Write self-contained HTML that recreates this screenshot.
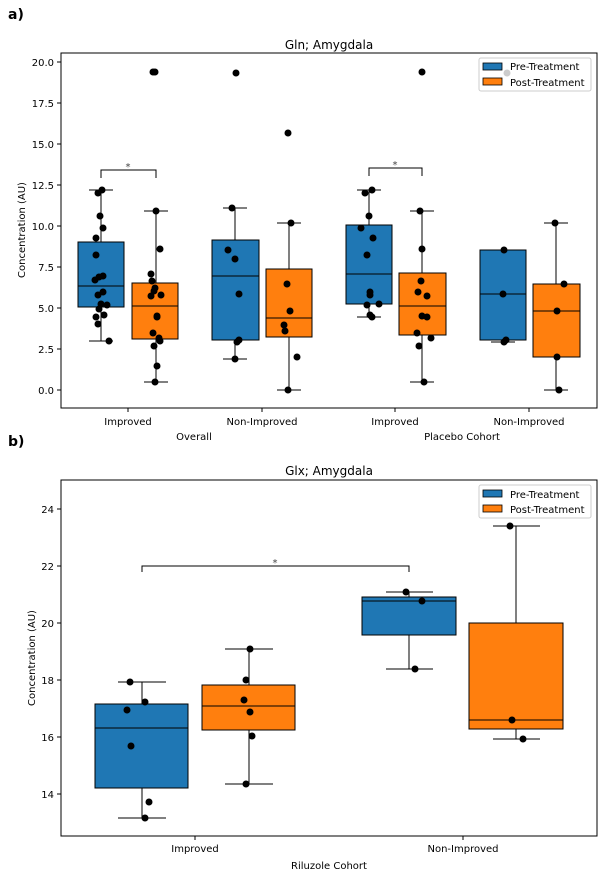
<!DOCTYPE html>
<html><head><meta charset="utf-8"><style>
html,body{margin:0;padding:0;background:#fff}
svg{display:block;font-family:"DejaVu Sans","Liberation Sans",sans-serif}
</style></head><body>
<svg width="607" height="878" viewBox="0 0 607 878" xmlns="http://www.w3.org/2000/svg">
<rect width="607" height="878" fill="#fff"/>
<text x="8" y="19" font-size="14" font-weight="bold">a)</text>
<text x="8" y="446" font-size="14" font-weight="bold">b)</text>

<!-- PANEL A -->
<text x="329" y="49" font-size="12" text-anchor="middle">Gln; Amygdala</text>
<g stroke="#000" stroke-width="1" fill="none">
<!-- y ticks -->
<line x1="57" y1="62" x2="61" y2="62"/><line x1="57" y1="103" x2="61" y2="103"/><line x1="57" y1="144" x2="61" y2="144"/>
<line x1="57" y1="185" x2="61" y2="185"/><line x1="57" y1="226" x2="61" y2="226"/><line x1="57" y1="267" x2="61" y2="267"/>
<line x1="57" y1="308" x2="61" y2="308"/><line x1="57" y1="349" x2="61" y2="349"/><line x1="57" y1="390" x2="61" y2="390"/>
<line x1="128" y1="408" x2="128" y2="412"/><line x1="262" y1="408" x2="262" y2="412"/><line x1="395" y1="408" x2="395" y2="412"/><line x1="529" y1="408" x2="529" y2="412"/>
</g>
<g font-size="10" text-anchor="end">
<text x="54" y="66">20.0</text><text x="54" y="107">17.5</text><text x="54" y="148">15.0</text><text x="54" y="189">12.5</text>
<text x="54" y="230">10.0</text><text x="54" y="271">7.5</text><text x="54" y="312">5.0</text><text x="54" y="353">2.5</text><text x="54" y="394">0.0</text>
</g>
<g font-size="10" text-anchor="middle">
<text x="128" y="425">Improved</text><text x="262" y="425">Non-Improved</text><text x="395" y="425">Improved</text><text x="529" y="425">Non-Improved</text>
<text x="194" y="440">Overall</text><text x="462" y="440">Placebo Cohort</text>
</g>
<text transform="translate(25,230) rotate(-90)" font-size="10" text-anchor="middle">Concentration (AU)</text>

<g stroke="#000" stroke-width="1">
<!-- box1 -->
<line x1="101" y1="190" x2="101" y2="341"/><line x1="89" y1="190" x2="113" y2="190"/><line x1="89" y1="341" x2="113" y2="341"/>
<rect x="78" y="242" width="46" height="65" fill="#1f77b4"/><line x1="78" y1="286" x2="124" y2="286"/>
<!-- box2 -->
<line x1="156" y1="211" x2="156" y2="382"/><line x1="144" y1="211" x2="168" y2="211"/><line x1="144" y1="382" x2="168" y2="382"/>
<rect x="132" y="283" width="46" height="56" fill="#ff7f0e"/><line x1="132" y1="306" x2="178" y2="306"/>
<!-- box3 -->
<line x1="235" y1="208" x2="235" y2="359"/><line x1="223" y1="208" x2="247" y2="208"/><line x1="223" y1="359" x2="247" y2="359"/>
<rect x="212" y="240" width="47" height="100" fill="#1f77b4"/><line x1="212" y1="276" x2="259" y2="276"/>
<!-- box4 -->
<line x1="289" y1="223" x2="289" y2="390"/><line x1="277" y1="223" x2="301" y2="223"/><line x1="277" y1="390" x2="301" y2="390"/>
<rect x="266" y="269" width="46" height="68" fill="#ff7f0e"/><line x1="266" y1="318" x2="312" y2="318"/>
<!-- box5 -->
<line x1="369" y1="190" x2="369" y2="317"/><line x1="357" y1="190" x2="381" y2="190"/><line x1="357" y1="317" x2="381" y2="317"/>
<rect x="346" y="225" width="46" height="79" fill="#1f77b4"/><line x1="346" y1="274" x2="392" y2="274"/>
<!-- box6 -->
<line x1="422" y1="211" x2="422" y2="382"/><line x1="410" y1="211" x2="434" y2="211"/><line x1="410" y1="382" x2="434" y2="382"/>
<rect x="399" y="273" width="47" height="62" fill="#ff7f0e"/><line x1="399" y1="306" x2="446" y2="306"/>
<!-- box7 -->
<line x1="503" y1="340" x2="503" y2="342"/><line x1="491" y1="250" x2="515" y2="250"/><line x1="491" y1="342" x2="515" y2="342"/>
<rect x="480" y="250" width="46" height="90" fill="#1f77b4"/><line x1="480" y1="294" x2="526" y2="294"/>
<!-- box8 -->
<line x1="556" y1="223" x2="556" y2="390"/><line x1="544" y1="223" x2="568" y2="223"/><line x1="544" y1="390" x2="568" y2="390"/>
<rect x="533" y="284" width="47" height="73" fill="#ff7f0e"/><line x1="533" y1="311" x2="580" y2="311"/>
<!-- brackets -->
<polyline points="101,178 101,170 156,170 156,178" fill="none"/>
<polyline points="369,176 369,168 422,168 422,176" fill="none"/>
</g>
<text x="128" y="170" font-size="10" text-anchor="middle" fill="#444">*</text>
<text x="395" y="168" font-size="10" text-anchor="middle" fill="#444">*</text>

<g fill="#000">
<circle cx="102" cy="190" r="3.5"/><circle cx="98" cy="193" r="3.5"/><circle cx="100" cy="216" r="3.5"/><circle cx="103" cy="228" r="3.5"/>
<circle cx="96" cy="238" r="3.5"/><circle cx="96" cy="255" r="3.5"/><circle cx="95" cy="280" r="3.5"/><circle cx="99" cy="277" r="3.5"/>
<circle cx="103" cy="276" r="3.5"/><circle cx="98" cy="295" r="3.5"/><circle cx="103" cy="292" r="3.5"/><circle cx="101" cy="304" r="3.5"/>
<circle cx="107" cy="305" r="3.5"/><circle cx="99" cy="309" r="3.5"/><circle cx="96" cy="317" r="3.5"/><circle cx="104" cy="315" r="3.5"/>
<circle cx="98" cy="324" r="3.5"/><circle cx="109" cy="341" r="3.5"/>
<circle cx="153" cy="72" r="3.5"/><circle cx="155" cy="72" r="3.5"/>
<circle cx="156" cy="211" r="3.5"/><circle cx="160" cy="249" r="3.5"/><circle cx="151" cy="274" r="3.5"/><circle cx="152" cy="281" r="3.5"/>
<circle cx="155" cy="288" r="3.5"/><circle cx="154" cy="291" r="3.5"/><circle cx="151" cy="296" r="3.5"/><circle cx="161" cy="295" r="3.5"/>
<circle cx="157" cy="316" r="3.5"/><circle cx="157" cy="317" r="3.5"/><circle cx="153" cy="333" r="3.5"/><circle cx="159" cy="338" r="3.5"/>
<circle cx="160" cy="341" r="3.5"/><circle cx="154" cy="346" r="3.5"/><circle cx="157" cy="366" r="3.5"/><circle cx="155" cy="382" r="3.5"/>
<circle cx="236" cy="73" r="3.5"/><circle cx="232" cy="208" r="3.5"/><circle cx="228" cy="250" r="3.5"/><circle cx="235" cy="259" r="3.5"/>
<circle cx="239" cy="294" r="3.5"/><circle cx="239" cy="340" r="3.5"/><circle cx="237" cy="342" r="3.5"/><circle cx="235" cy="359" r="3.5"/>
<circle cx="288" cy="133" r="3.5"/><circle cx="291" cy="223" r="3.5"/><circle cx="287" cy="284" r="3.5"/><circle cx="290" cy="311" r="3.5"/>
<circle cx="284" cy="325" r="3.5"/><circle cx="285" cy="331" r="3.5"/><circle cx="297" cy="357" r="3.5"/><circle cx="288" cy="390" r="3.5"/>
<circle cx="372" cy="190" r="3.5"/><circle cx="365" cy="193" r="3.5"/><circle cx="369" cy="216" r="3.5"/><circle cx="361" cy="228" r="3.5"/>
<circle cx="373" cy="238" r="3.5"/><circle cx="367" cy="255" r="3.5"/><circle cx="370" cy="292" r="3.5"/><circle cx="370" cy="295" r="3.5"/>
<circle cx="379" cy="304" r="3.5"/><circle cx="367" cy="305" r="3.5"/><circle cx="370" cy="315" r="3.5"/><circle cx="372" cy="317" r="3.5"/>
<circle cx="422" cy="72" r="3.5"/><circle cx="420" cy="211" r="3.5"/><circle cx="422" cy="249" r="3.5"/><circle cx="421" cy="281" r="3.5"/>
<circle cx="418" cy="292" r="3.5"/><circle cx="427" cy="296" r="3.5"/><circle cx="422" cy="316" r="3.5"/><circle cx="427" cy="317" r="3.5"/>
<circle cx="417" cy="333" r="3.5"/><circle cx="431" cy="338" r="3.5"/><circle cx="419" cy="346" r="3.5"/><circle cx="424" cy="382" r="3.5"/>
<circle cx="507" cy="73" r="3.5"/><circle cx="504" cy="250" r="3.5"/><circle cx="503" cy="294" r="3.5"/><circle cx="506" cy="340" r="3.5"/><circle cx="504" cy="342" r="3.5"/>
<circle cx="555" cy="223" r="3.5"/><circle cx="564" cy="284" r="3.5"/><circle cx="557" cy="311" r="3.5"/><circle cx="557" cy="357" r="3.5"/><circle cx="559" cy="390" r="3.5"/>
</g>
<rect x="61" y="53" width="536" height="355" fill="none" stroke="#000" stroke-width="1"/>
<!-- legend a -->
<rect x="479" y="58" width="112" height="33" rx="2" fill="#fff" fill-opacity="0.8" stroke="#ccc"/>
<rect x="483" y="63" width="19" height="7" fill="#1f77b4" stroke="#000" stroke-width="0.8"/>
<rect x="483" y="78" width="19" height="7" fill="#ff7f0e" stroke="#000" stroke-width="0.8"/>
<text x="510" y="70" font-size="10">Pre-Treatment</text>
<text x="510" y="86" font-size="10">Post-Treatment</text>

<!-- PANEL B -->
<text x="329" y="475" font-size="12" text-anchor="middle">Glx; Amygdala</text>
<g stroke="#000" stroke-width="1" fill="none">
<line x1="57" y1="509" x2="61" y2="509"/><line x1="57" y1="566" x2="61" y2="566"/><line x1="57" y1="623" x2="61" y2="623"/>
<line x1="57" y1="680" x2="61" y2="680"/><line x1="57" y1="737" x2="61" y2="737"/><line x1="57" y1="794" x2="61" y2="794"/>
<line x1="195" y1="836" x2="195" y2="840"/><line x1="463" y1="836" x2="463" y2="840"/>
</g>
<g font-size="10" text-anchor="end">
<text x="54" y="513">24</text><text x="54" y="570">22</text><text x="54" y="627">20</text><text x="54" y="684">18</text><text x="54" y="741">16</text><text x="54" y="798">14</text>
</g>
<g font-size="10" text-anchor="middle">
<text x="195" y="852">Improved</text><text x="463" y="852">Non-Improved</text>
<text x="329" y="869">Riluzole Cohort</text>
</g>
<text transform="translate(35,658) rotate(-90)" font-size="10" text-anchor="middle">Concentration (AU)</text>

<g stroke="#000" stroke-width="1">
<line x1="142" y1="682" x2="142" y2="818"/><line x1="118" y1="682" x2="166" y2="682"/><line x1="118" y1="818" x2="166" y2="818"/>
<rect x="95" y="704" width="93" height="84" fill="#1f77b4"/><line x1="95" y1="728" x2="188" y2="728"/>
<line x1="249" y1="649" x2="249" y2="784"/><line x1="225" y1="649" x2="273" y2="649"/><line x1="225" y1="784" x2="273" y2="784"/>
<rect x="202" y="685" width="93" height="45" fill="#ff7f0e"/><line x1="202" y1="706" x2="295" y2="706"/>
<line x1="409" y1="592" x2="409" y2="669"/><line x1="386" y1="592" x2="433" y2="592"/><line x1="386" y1="669" x2="433" y2="669"/>
<rect x="362" y="597" width="94" height="38" fill="#1f77b4"/><line x1="362" y1="601" x2="456" y2="601"/>
<line x1="516" y1="526" x2="516" y2="739"/><line x1="493" y1="526" x2="540" y2="526"/><line x1="493" y1="739" x2="540" y2="739"/>
<rect x="469" y="623" width="94" height="106" fill="#ff7f0e"/><line x1="469" y1="720" x2="563" y2="720"/>
<polyline points="142,572 142,566 409,566 409,572" fill="none"/>
</g>
<text x="275" y="566" font-size="10" text-anchor="middle" fill="#444">*</text>
<g fill="#000">
<circle cx="130" cy="682" r="3.5"/><circle cx="145" cy="702" r="3.5"/><circle cx="127" cy="710" r="3.5"/><circle cx="131" cy="746" r="3.5"/>
<circle cx="149" cy="802" r="3.5"/><circle cx="145" cy="818" r="3.5"/>
<circle cx="250" cy="649" r="3.5"/><circle cx="246" cy="680" r="3.5"/><circle cx="244" cy="700" r="3.5"/><circle cx="250" cy="712" r="3.5"/>
<circle cx="252" cy="736" r="3.5"/><circle cx="246" cy="784" r="3.5"/>
<circle cx="406" cy="592" r="3.5"/><circle cx="422" cy="601" r="3.5"/><circle cx="415" cy="669" r="3.5"/>
<circle cx="510" cy="526" r="3.5"/><circle cx="512" cy="720" r="3.5"/><circle cx="523" cy="739" r="3.5"/>
</g>
<rect x="61" y="480" width="536" height="356" fill="none" stroke="#000" stroke-width="1"/>
<rect x="479" y="485" width="112" height="33" rx="2" fill="#fff" fill-opacity="0.8" stroke="#ccc"/>
<rect x="483" y="490" width="19" height="7" fill="#1f77b4" stroke="#000" stroke-width="0.8"/>
<rect x="483" y="505" width="19" height="7" fill="#ff7f0e" stroke="#000" stroke-width="0.8"/>
<text x="510" y="498" font-size="10">Pre-Treatment</text>
<text x="510" y="513" font-size="10">Post-Treatment</text>
</svg>
</body></html>
